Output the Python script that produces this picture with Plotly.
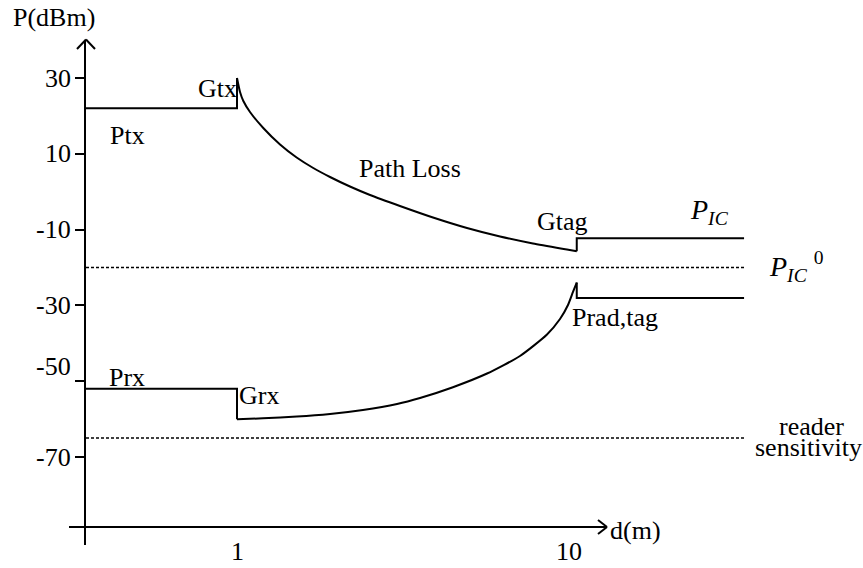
import plotly.graph_objects as go

# ---------------- data ----------------
y_tick_values = [30, 10, -10, -30, -50, -70]
y_tick_labels = ["30", "10", "-10", "-30", "-50", "-70"]
x_tick_values = [1, 3.2]
x_tick_labels = ["1", "10"]

# transmitted power, step by antenna gain Gtx
ptx_x = [0, 1, 1]
ptx_y = [22, 22, 30]
# path loss curve (forward link)
path_loss_x = [1.0, 1.020, 1.042, 1.086, 1.174, 1.285, 1.395, 1.505, 1.616, 1.748,
               1.881, 2.079, 2.298, 2.523, 2.742, 2.960, 3.185, 3.25]
path_loss_y = [30.0, 26.31, 23.93, 21.03, 16.81, 12.45, 9.02, 6.25, 3.88, 1.37,
               -0.87, -3.77, -6.81, -9.58, -11.82, -13.67, -15.25, -15.70]
# tag gain step and power at the IC
pic_x = [3.25, 3.25, 4.358]
pic_y = [-15.70, -12.3, -12.3]

# received power at reader, step by Grx
prx_x = [0, 1, 1]
prx_y = [-52, -52, -60.05]
# return link curve
return_x = [1.0, 1.172, 1.397, 1.616, 1.834, 2.060, 2.212, 2.430, 2.656,
            2.874, 3.053, 3.139, 3.192, 3.225, 3.25]
return_y = [-60.05, -59.79, -59.34, -58.65, -57.59, -56.01, -54.43, -51.58,
            -47.97, -43.35, -37.68, -33.59, -29.89, -26.46, -23.96]
# radiated power of tag
prad_x = [3.25, 3.25, 4.358]
prad_y = [-23.96, -28.05, -28.05]

threshold_x = [0, 4.358]
pic0_level = -20
sensitivity_level = -65

# ---------------- layout geometry (pixels) ----------------
W, H = 863, 568
ML, MT, MB = 86, 40, 23
PW, PH = W - ML, H - MT - MB
PX_X = 151.0            # pixels per schematic distance unit
PX_Y = 3.79             # pixels per dB
Y0_PX = 191.7           # pixel row of 0 dBm


def px2x(px):
    return (px - ML) / PX_X


def py2y(py):
    return (Y0_PX - py) / PX_Y


def pxp(px):
    return (px - ML) / PW


def pyp(py):
    return (H - MB - py) / PH


x_range = [0, px2x(W)]
y_range = [py2y(H - MB), py2y(MT)]

FONT = "Liberation Serif"
BLACK = "black"

fig = go.Figure()

line_solid = dict(color=BLACK, width=2)
for xs, ys in [(ptx_x, ptx_y), (pic_x, pic_y), (prx_x, prx_y), (prad_x, prad_y)]:
    fig.add_trace(go.Scatter(x=xs, y=ys, mode="lines", line=line_solid,
                             hoverinfo="skip", showlegend=False))
for xs, ys in [(path_loss_x, path_loss_y), (return_x, return_y)]:
    fig.add_trace(go.Scatter(x=xs, y=ys, mode="lines",
                             line=dict(color=BLACK, width=2, shape="spline", smoothing=0.6),
                             hoverinfo="skip", showlegend=False))
for lvl in [pic0_level, sensitivity_level]:
    fig.add_trace(go.Scatter(x=threshold_x, y=[lvl, lvl], mode="lines",
                             line=dict(color=BLACK, width=1.5, dash="3px,2px"),
                             hoverinfo="skip", showlegend=False))

shapes = []


def seg(x0, y0, x1, y1):
    shapes.append(dict(type="line", xref="paper", yref="paper",
                       x0=pxp(x0), y0=pyp(y0), x1=pxp(x1), y1=pyp(y1),
                       line=dict(color=BLACK, width=2)))


# x axis line with open arrow head
seg(69, 527, 607, 527)
seg(598, 520, 607, 527)
seg(598, 534, 607, 527)
# y axis arrow head
seg(77, 49, 86, 39.5)
seg(95, 49, 86, 39.5)

annotations = []


def txt(text, px, py, size=26, xanchor="center", yanchor="middle"):
    annotations.append(dict(text=text, x=pxp(px), y=pyp(py), xref="paper", yref="paper",
                            showarrow=False, xanchor=xanchor, yanchor=yanchor,
                            font=dict(family=FONT, size=size, color=BLACK)))


# y tick labels (the -50 label sits a bit above its tick in the original)
label_shift_db = {"-50": 3.8}
for v, lab in zip(y_tick_values, y_tick_labels):
    annotations.append(dict(text=lab, x=pxp(73), y=v + label_shift_db.get(lab, 0),
                            xref="paper", yref="y", showarrow=False,
                            xanchor="right", yanchor="middle",
                            font=dict(family=FONT, size=26, color=BLACK)))
# x tick labels
for v, lab in zip(x_tick_values, x_tick_labels):
    annotations.append(dict(text=lab, x=v, y=pyp(551), xref="x", yref="paper",
                            showarrow=False, xanchor="center", yanchor="middle",
                            font=dict(family=FONT, size=26, color=BLACK)))

txt("P(dBm)", 54, 18)
txt("d(m)", 635, 530)
txt("Gtx", 217, 89)
txt("Ptx", 127.5, 135.5)
txt("Path Loss", 409.5, 168.5)
txt("Gtag", 562, 221)
txt("Prad,tag", 615, 317.5)
txt("Prx", 127, 378)
txt("Grx", 259, 395)
txt("reader", 811, 426)
txt("sensitivity", 808, 447.5)
txt("<i>P</i><sub><i>IC</i></sub>", 709, 212, size=28)
txt("<i>P</i><sub><i>IC</i></sub> <sup>0</sup>", 796, 266, size=28)

fig.update_layout(
    width=W, height=H,
    margin=dict(l=ML, r=0, t=MT, b=MB, pad=0),
    paper_bgcolor="white", plot_bgcolor="white",
    xaxis=dict(range=x_range, visible=False, fixedrange=True),
    yaxis=dict(range=y_range, showgrid=False, zeroline=False, showline=True,
               linecolor=BLACK, linewidth=2, ticks="outside", ticklen=9,
               tickwidth=2, tickcolor=BLACK, tickvals=y_tick_values,
               showticklabels=False, fixedrange=True),
    shapes=shapes, annotations=annotations, showlegend=False,
)

fig.write_html("out.html")
